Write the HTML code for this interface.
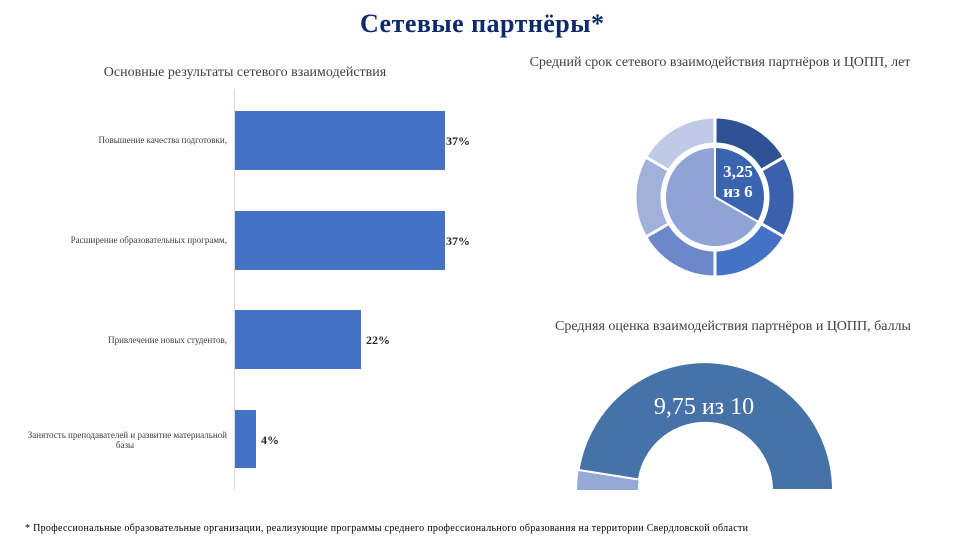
<!DOCTYPE html>
<html><head><meta charset="utf-8"><style>
body{margin:0;background:#fff;width:971px;height:547px;overflow:hidden;font-family:"Liberation Serif",serif;}
</style></head><body>
<svg width="971" height="547" xmlns="http://www.w3.org/2000/svg" font-family="Liberation Serif, serif">
<text x="482" y="32" text-anchor="middle" font-size="26" font-weight="bold" fill="#0e2a6b" textLength="244">Сетевые партнёры*</text>
<text x="245" y="76" text-anchor="middle" font-size="14" fill="#404040">Основные  результаты сетевого взаимодействия</text>
<text x="720" y="66" text-anchor="middle" font-size="14" fill="#404040">Средний срок сетевого взаимодействия партнёров и ЦОПП, лет</text>
<text x="733" y="330" text-anchor="middle" font-size="14" fill="#404040">Средняя оценка взаимодействия партнёров и ЦОПП, баллы</text>
<line x1="234.5" y1="90" x2="234.5" y2="490" stroke="#d9d9d9"/>
<g fill="#4472c4">
<rect x="235" y="111" width="210" height="59"/>
<rect x="235" y="211" width="210" height="59"/>
<rect x="235" y="310" width="126" height="59"/>
<rect x="235" y="410" width="21" height="58"/>
</g>
<g font-size="12" font-weight="bold" fill="#262626">
<text x="446" y="145">37%</text><text x="446" y="245">37%</text>
<text x="366" y="344">22%</text><text x="261" y="444">4%</text>
</g>
<g font-size="9" fill="#404040" text-anchor="end">
<text x="227" y="143">Повышение качества подготовки,</text>
<text x="227" y="243">Расширение образовательных программ,</text>
<text x="227" y="343">Привлечение новых студентов,</text>
<text x="227" y="438">Занятость преподавателей и развитие материальной</text>
<text x="125" y="448" text-anchor="middle">базы</text>
</g>
<g stroke="#fff" stroke-width="3">
<path d="M715,117 A80,80 0 0 1 784.3,157 L760.9,170.5 A53,53 0 0 0 715,144Z" fill="#2f5294"/>
<path d="M784.3,157 A80,80 0 0 1 784.3,237 L760.9,223.5 A53,53 0 0 0 760.9,170.5Z" fill="#3a61ad"/>
<path d="M784.3,237 A80,80 0 0 1 715,277 L715,250 A53,53 0 0 0 760.9,223.5Z" fill="#4472c4"/>
<path d="M715,277 A80,80 0 0 1 645.7,237 L669.1,223.5 A53,53 0 0 0 715,250Z" fill="#6d88c9"/>
<path d="M645.7,237 A80,80 0 0 1 645.7,157 L669.1,170.5 A53,53 0 0 0 669.1,223.5Z" fill="#a1b1da"/>
<path d="M645.7,157 A80,80 0 0 1 715,117 L715,144 A53,53 0 0 0 669.1,170.5Z" fill="#c0cae6"/>
<path d="M715,197 L715,147 A50,50 0 0 1 758.3,222Z" fill="#3a63b0" stroke-width="2"/>
<path d="M715,197 L758.3,222 A50,50 0 1 1 715,147Z" fill="#8fa3d4" stroke-width="2"/>
</g>
<text x="738" y="177" text-anchor="middle" font-size="17" font-weight="bold" fill="#fff">3,25</text>
<text x="738" y="197" text-anchor="middle" font-size="17" font-weight="bold" fill="#fff">из 6</text>
<path d="M577,490 A128,128 0 0 1 578.6,470 L638.8,479.5 A67,67 0 0 0 638,490Z" fill="#94a9d4"/>
<path d="M578.6,470 A128,128 0 0 1 833,490 L772,490 A67,67 0 0 0 638.8,479.5Z" fill="#4572a7" stroke="#fff" stroke-width="2"/>
<rect x="560" y="490" width="290" height="10" fill="#fff"/>
<text x="704" y="414" text-anchor="middle" font-size="24" fill="#fff">9,75 из 10</text>
<text x="25" y="531" font-size="10" fill="#000" textLength="723">* Профессиональные образовательные организации, реализующие программы среднего профессионального образования на территории Свердловской области</text>
</svg>
</body></html>
